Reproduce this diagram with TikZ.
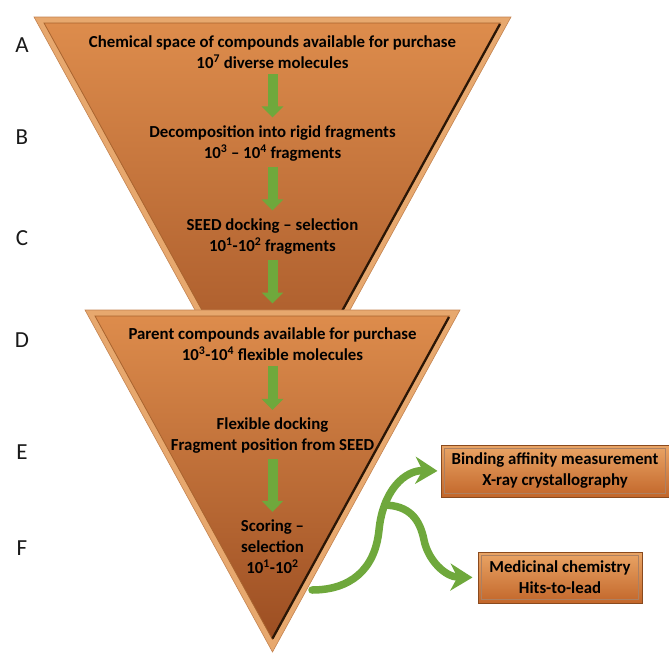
\documentclass[tikz,border=0pt]{standalone}
\usepackage{fontspec}
\setmainfont{Carlito}
\usetikzlibrary{arrows.meta,calc}
\definecolor{bevlight}{HTML}{E7A86E}
\definecolor{bevline}{HTML}{C48350}
\definecolor{funtop}{HTML}{DD8C4C}
\definecolor{funmid}{HTML}{C66F36}
\definecolor{funbot}{HTML}{9C4E22}
\definecolor{darkedge}{HTML}{2A1606}
\definecolor{innerleft}{HTML}{A9642F}
\definecolor{greenarr}{HTML}{6FA83C}
\definecolor{boxtop}{HTML}{EAA566}
\definecolor{boxbot}{HTML}{C2662A}
\definecolor{boxedge}{HTML}{8A4A1E}
\tikzset{
  steptext/.style={font=\bfseries\fontsize{16.8}{21}\selectfont, align=center, inner sep=0pt, text=black},
  letterlabel/.style={font=\fontsize{23}{23}\selectfont, inner sep=0pt, text=black!90},
  flowarrow/.style={draw=greenarr, line width=10pt, -{Triangle[length=11pt,width=21pt]}},
  bigarrow/.style={draw=greenarr, line width=7.5pt, line cap=round, -{Stealth[length=22pt,width=27pt,inset=7pt]}},
  resultbox/.style={font=\bfseries\fontsize{16.8}{21}\selectfont, align=center, inner sep=0pt, text=black,
     top color=boxtop, bottom color=boxbot, draw=boxedge, line width=1pt}
}
\begin{document}
\begin{tikzpicture}[x=1pt,y=-1pt]
\useasboundingbox (0,0) rectangle (669,653);

% ---------- top funnel ----------
\fill[bevlight, draw=bevline, line width=0.6pt] (34,17) -- (511,17) -- (272.5,451) -- cycle;
\shade[top color=funtop, middle color=funmid, bottom color=funbot]
   (44,23) -- (501,23) -- (272.5,438.5) -- cycle;
\draw[innerleft, line width=0.8pt] (272.5,438.5) -- (44,23) -- (501,23);
\draw[darkedge, line width=2.3pt] (500,24) -- (272.5,437.5);

% ---------- text nodes, top funnel ----------
\node[steptext] (A) at (272.5,52.5) {Chemical space of compounds available for purchase\\10\textsuperscript{7} diverse molecules};
\node[steptext] (B) at (272.5,143.5) {Decomposition into rigid fragments\\10\textsuperscript{3} – 10\textsuperscript{4} fragments};
\node[steptext] (C) at (272.5,236.5) {SEED docking – selection\\10\textsuperscript{1}-10\textsuperscript{2} fragments};

% ---------- bottom funnel ----------
\fill[bevlight, draw=bevline, line width=0.6pt] (85,310) -- (460,310) -- (272.5,652) -- cycle;
\shade[top color=funtop, middle color=funmid, bottom color=funbot]
   (95,316) -- (450,316) -- (272.5,639.5) -- cycle;
\draw[innerleft, line width=0.8pt] (272.5,639.5) -- (95,316) -- (450,316);
\draw[darkedge, line width=2.3pt] (449,317) -- (272.5,638.5);

\node[steptext] (D) at (272.5,344) {Parent compounds available for purchase\\10\textsuperscript{3}-10\textsuperscript{4} flexible molecules};
\node[steptext] (E) at (272.5,436) {Flexible docking\\Fragment position from SEED};
\node[steptext] (F) at (272.5,547) {Scoring –\\selection\\10\textsuperscript{1}-10\textsuperscript{2}};

% ---------- vertical flow arrows ----------
\draw[flowarrow, shorten <=5pt, shorten >=8pt] (A.south) -- (B.north);
\draw[flowarrow, shorten <=5pt, shorten >=8pt] (B.south) -- (C.north);
\draw[flowarrow, shorten <=5pt] (C.south) -- ($(C.south)+(0,49)$) coordinate (Cend);
\draw[flowarrow, shorten <=5pt, shorten >=8pt] (D.south) -- (E.north);
\draw[flowarrow, shorten <=5pt, shorten >=8pt] (E.south) -- (F.north);

% ---------- letter labels ----------
\node[letterlabel] (LA) at (22,45.5) {A};
\node[letterlabel] (LB) at (22,137) {B};
\node[letterlabel] (LC) at (22,238) {C};
\node[letterlabel] (LD) at (22,340) {D};
\node[letterlabel] (LE) at (22,452) {E};
\node[letterlabel] (LF) at (22,548) {F};

% ---------- result boxes ----------
\node[resultbox, minimum width=228pt, minimum height=52pt] (R1) at (555,471) {Binding affinity measurement\\X-ray crystallography};
\draw[boxedge!70, line width=0.6pt] ($(R1.north west)+(4,4)$) rectangle ($(R1.south east)+(-4,-4)$);
\node[resultbox, minimum width=164pt, minimum height=51pt] (R2) at (560,577.5) {Medicinal chemistry\\Hits-to-lead};
\draw[boxedge!70, line width=0.6pt] ($(R2.north west)+(4,4)$) rectangle ($(R2.south east)+(-4,-4)$);

% ---------- curved green arrows ----------
\coordinate (S) at (312,590);
\coordinate (J) at (383,505);
\draw[bigarrow, shorten >=3pt] (S) .. controls (350,590) and (375,570) .. (379,530)
   .. controls (383,490) and (405,470) .. (R1.west);
\draw[bigarrow, line cap=butt, shorten >=5pt] (J) .. controls (410,505) and (420,520) .. (424,540)
   .. controls (428,560) and (445,577) .. (R2.west);
\end{tikzpicture}
\end{document}
